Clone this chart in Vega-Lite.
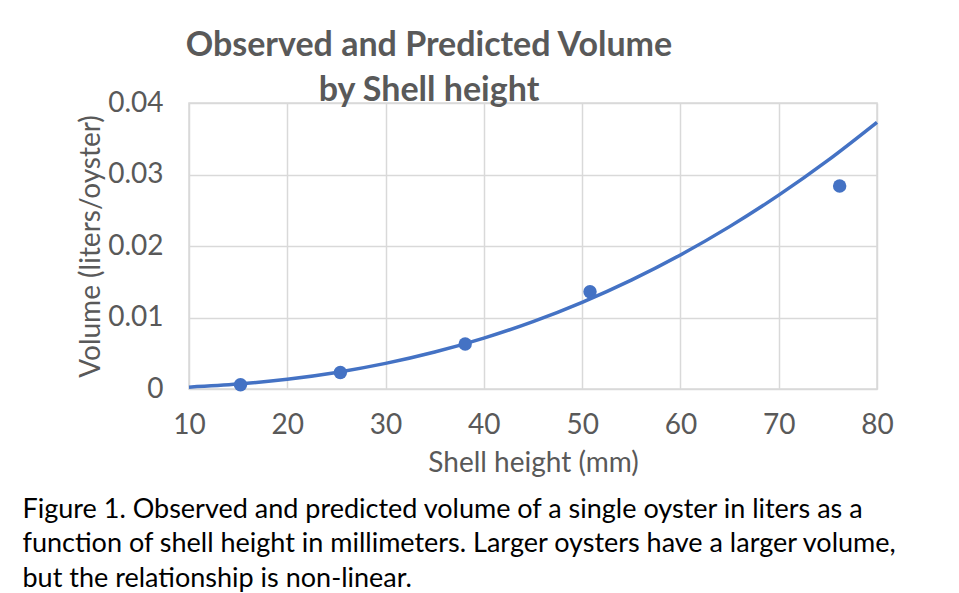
{
  "$schema": "https://vega.github.io/schema/vega-lite/v6.json",
  "width": 688,
  "height": 286,
  "autosize": {"type": "none"},
  "padding": {"left": 189, "top": 103, "right": 82, "bottom": 204},
  "background": "white",
  "config": {
    "font": "Lato",
    "view": {"stroke": "#d9d9d9", "strokeWidth": 1.5}
  },
  "title": {
    "text": ["Observed and Predicted Volume", "by Shell height"],
    "anchor": "middle",
    "dx": -104,
    "font": "Lato",
    "fontSize": 34,
    "fontWeight": "bold",
    "color": "#595959",
    "lineHeight": 45,
    "baseline": "alphabetic",
    "offset": -46
  },
  "datasets": {
    "predicted": [
      {"height": 10, "volume": 0.000259},
      {"height": 15, "volume": 0.000683},
      {"height": 20, "volume": 0.001358},
      {"height": 25, "volume": 0.002314},
      {"height": 30, "volume": 0.003579},
      {"height": 35, "volume": 0.005171},
      {"height": 40, "volume": 0.007116},
      {"height": 45, "volume": 0.009428},
      {"height": 50, "volume": 0.012131},
      {"height": 55, "volume": 0.015232},
      {"height": 60, "volume": 0.018753},
      {"height": 65, "volume": 0.02271},
      {"height": 70, "volume": 0.02711},
      {"height": 75, "volume": 0.031968},
      {"height": 80, "volume": 0.0373}
    ],
    "observed": [
      {"height": 15.24, "volume": 0.0006},
      {"height": 25.4, "volume": 0.0023},
      {"height": 38.1, "volume": 0.0063},
      {"height": 50.8, "volume": 0.0136},
      {"height": 76.2, "volume": 0.0284}
    ]
  },
  "layer": [
    {
      "data": {"name": "predicted"},
      "mark": {"type": "line", "color": "#4472C4", "strokeWidth": 3.5, "interpolate": "monotone"},
      "encoding": {
        "x": {
          "field": "height",
          "type": "quantitative",
          "scale": {"domain": [10, 80], "nice": false, "zero": false},
          "axis": {
            "values": [10, 20, 30, 40, 50, 60, 70, 80],
            "labelFlush": false,
            "title": "Shell height (mm)",
            "titleFontSize": 28,
            "titleFontWeight": "normal",
            "titleColor": "#595959",
            "titlePadding": 10,
            "labelFontSize": 28,
            "labelColor": "#595959",
            "labelPadding": 22,
            "grid": true,
            "gridColor": "#d9d9d9",
            "gridWidth": 1.5,
            "domain": false,
            "ticks": false
          }
        },
        "y": {
          "field": "volume",
          "type": "quantitative",
          "scale": {"domain": [0, 0.04], "nice": false},
          "axis": {
            "values": [0, 0.01, 0.02, 0.03, 0.04],
            "format": ".2~f",
            "title": "Volume (liters/oyster)",
            "titleFontSize": 28,
            "titleFontWeight": "normal",
            "titleColor": "#595959",
            "titlePadding": 2,
            "labelFontSize": 28,
            "labelColor": "#595959",
            "labelPadding": 26,
            "grid": true,
            "gridColor": "#d9d9d9",
            "gridWidth": 1.5,
            "domain": false,
            "ticks": false
          }
        }
      }
    },
    {
      "data": {"name": "observed"},
      "mark": {"type": "point", "filled": true, "opacity": 1, "size": 180, "color": "#4472C4"},
      "encoding": {
        "x": {
          "field": "height",
          "type": "quantitative",
          "axis": {
            "orient": "bottom",
            "labels": false,
            "ticks": false,
            "domain": false,
            "grid": false,
            "title": [
              "Figure 1. Observed and predicted volume of a single oyster in liters as a",
              "function of shell height in millimeters. Larger oysters have a larger volume,",
              "but the relationship is non-linear."
            ],
            "titleFont": "Lato",
            "titleFontSize": 27,
            "titleFontWeight": "normal",
            "titleColor": "#000000",
            "titleAlign": "left",
            "titleBaseline": "alphabetic",
            "titleLineHeight": 34.5,
            "titleX": -167,
            "titleY": 128
          }
        },
        "y": {"field": "volume", "type": "quantitative"}
      }
    }
  ],
  "resolve": {"axis": {"x": "independent"}}
}
